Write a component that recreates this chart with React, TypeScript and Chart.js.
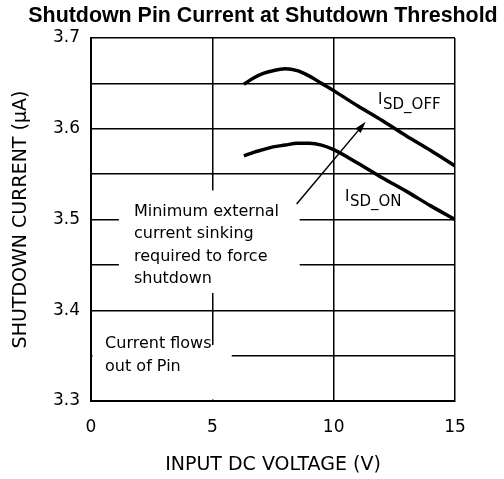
import React, { useEffect, useRef } from 'react';
import { Chart, registerables } from 'chart.js';

Chart.register(...registerables);

// ---- Text ----
const CHART_TITLE = 'Shutdown Pin Current at Shutdown Threshold';
const X_TITLE = 'INPUT DC VOLTAGE (V)';
const Y_TITLE = 'SHUTDOWN CURRENT (\u03BCA)';
const NOTE_SINK = ['Minimum external', 'current sinking', 'required to force', 'shutdown'];
const NOTE_OUT = ['Current flows', 'out of Pin'];
const LABEL_OFF = ['I', 'SD_OFF'];
const LABEL_ON = ['I', 'SD_ON'];

// ---- Axes ----
const X_MIN = 0;
const X_MAX = 15;
const X_STEP = 5;
const Y_MIN = 3.3;
const Y_MAX = 3.7;
const Y_GRID_STEP = 0.05;
const Y_TICK_LABELS = ['3.3', '3.4', '3.5', '3.6', '3.7'];

// ---- Series ----
const voltageOff = [6.3, 6.7, 7.1, 7.5, 8.0, 8.5, 9.0, 9.5, 10, 11, 12, 13, 14, 15];
const currentOff = [3.649, 3.656, 3.661, 3.664, 3.666, 3.664, 3.658, 3.65, 3.642, 3.625, 3.609, 3.592, 3.576, 3.559];
const voltageOn = [6.3, 6.7, 7.1, 7.5, 8.0, 8.5, 9.0, 9.5, 10, 11, 12, 13, 14, 15];
const currentOn = [3.57, 3.574, 3.577, 3.58, 3.582, 3.584, 3.584, 3.582, 3.577, 3.562, 3.546, 3.531, 3.515, 3.5];

// ---- Annotation placement (data units) ----
const MASKS = [
  { x0: 1.15, x1: 8.6, y0: 3.419, y1: 3.532 },
  { x0: 0, x1: 5.8, y0: 3.3, y1: 3.3617 },
];
const NOTE_SINK_POS = { x: 1.77, y: 3.5039 };
const NOTE_OUT_POS = { x: 0.58, y: 3.3581 };
const LABEL_OFF_POS = { x: 11.83, y: 3.6274 };
const LABEL_ON_POS = { x: 10.47, y: 3.5204 };
const ARROW = { x0: 8.475, y0: 3.517, x1: 11.32, y1: 3.6078 };

const toPoints = (xs: number[], ys: number[]) => xs.map((x, i) => ({ x, y: ys[i] }));

const annotationPlugin = {
  id: 'figureAnnotations',
  beforeDatasetsDraw(chart: any) {
    const { ctx, chartArea: a, scales } = chart;
    const xs = scales.x;
    const ys = scales.y;
    ctx.save();
    ctx.fillStyle = '#ffffff';
    for (const m of MASKS) {
      const l = Math.max(xs.getPixelForValue(m.x0), a.left + 1.5);
      const r = Math.min(xs.getPixelForValue(m.x1), a.right - 1.5);
      const t = Math.max(ys.getPixelForValue(m.y1), a.top + 1.5);
      const b = Math.min(ys.getPixelForValue(m.y0), a.bottom - 1.5);
      ctx.fillRect(l, t, r - l, b - t);
    }
    ctx.restore();
  },
  afterDatasetsDraw(chart: any) {
    const { ctx, scales } = chart;
    const xs = scales.x;
    const ys = scales.y;
    ctx.save();
    ctx.fillStyle = '#000';
    ctx.strokeStyle = '#000';
    ctx.textAlign = 'left';
    ctx.textBaseline = 'alphabetic';
    ctx.font = '16px "DejaVu Sans"';
    const lh = 22.5;
    let px = xs.getPixelForValue(NOTE_SINK_POS.x);
    let py = ys.getPixelForValue(NOTE_SINK_POS.y);
    NOTE_SINK.forEach((s, i) => ctx.fillText(s, px, py + i * lh));
    px = xs.getPixelForValue(NOTE_OUT_POS.x);
    py = ys.getPixelForValue(NOTE_OUT_POS.y);
    NOTE_OUT.forEach((s, i) => ctx.fillText(s, px, py + i * lh));

    // subscripted labels
    ctx.font = '15px "DejaVu Sans"';
    for (const [lab, pos] of [[LABEL_OFF, LABEL_OFF_POS], [LABEL_ON, LABEL_ON_POS]] as any) {
      const lx = xs.getPixelForValue(pos.x);
      const ly = ys.getPixelForValue(pos.y);
      ctx.fillText(lab[0], lx, ly);
      const w = ctx.measureText(lab[0]).width;
      ctx.fillText(lab[1], lx + w + 0.5, ly + 5.5);
    }

    // arrow
    const ax0 = xs.getPixelForValue(ARROW.x0);
    const ay0 = ys.getPixelForValue(ARROW.y0);
    const ax1 = xs.getPixelForValue(ARROW.x1);
    const ay1 = ys.getPixelForValue(ARROW.y1);
    const ang = Math.atan2(ay1 - ay0, ax1 - ax0);
    const hl = 12;
    const hw = 3.5;
    const bx = ax1 - hl * Math.cos(ang);
    const by = ay1 - hl * Math.sin(ang);
    ctx.lineWidth = 1.5;
    ctx.beginPath();
    ctx.moveTo(ax0, ay0);
    ctx.lineTo(bx, by);
    ctx.stroke();
    ctx.beginPath();
    ctx.moveTo(ax1, ay1);
    ctx.lineTo(bx - hw * Math.sin(ang), by + hw * Math.cos(ang));
    ctx.lineTo(bx + hw * Math.sin(ang), by - hw * Math.cos(ang));
    ctx.closePath();
    ctx.fill();
    ctx.restore();
  },
  afterDraw(chart: any) {
    const { ctx } = chart;
    ctx.save();
    ctx.fillStyle = '#000';
    ctx.font = 'bold 21.4px "Liberation Sans", Arial, sans-serif';
    ctx.textAlign = 'center';
    ctx.textBaseline = 'middle';
    ctx.fillText(CHART_TITLE, 263, 16);
    ctx.restore();
  },
};

export default function App() {
  const canvasRef = useRef<HTMLCanvasElement | null>(null);

  useEffect(() => {
    if (!canvasRef.current) return;
    const tickFont = { family: '"DejaVu Sans", sans-serif', size: 17 };
    const titleFont = { family: '"DejaVu Sans", sans-serif', size: 19 };
    const chart = new Chart(canvasRef.current, {
      type: 'line',
      data: {
        datasets: [
          {
            label: 'I_SD_OFF',
            data: toPoints(voltageOff, currentOff),
            borderColor: '#000',
            borderWidth: 3.5,
            pointRadius: 0,
            cubicInterpolationMode: 'monotone',
            fill: false,
          },
          {
            label: 'I_SD_ON',
            data: toPoints(voltageOn, currentOn),
            borderColor: '#000',
            borderWidth: 3.5,
            pointRadius: 0,
            cubicInterpolationMode: 'monotone',
            fill: false,
          },
        ],
      },
      options: {
        responsive: false,
        animation: false,
        devicePixelRatio: 1,
        layout: { padding: { top: 38, right: 49, left: 0, bottom: 0 } },
        plugins: { legend: { display: false }, tooltip: { enabled: false }, title: { display: false } },
        scales: {
          x: {
            type: 'linear',
            min: X_MIN,
            max: X_MAX,
            grid: { color: '#000', lineWidth: 1.5, drawTicks: false },
            border: { color: '#000', width: 2 },
            ticks: { stepSize: X_STEP, color: '#000', font: tickFont, padding: 16, maxRotation: 0 },
            title: { display: true, text: X_TITLE, color: '#000', font: titleFont, padding: { top: 0, bottom: 3 } },
            afterFit: (s: any) => { s.height = 78; },
          },
          y: {
            type: 'linear',
            min: Y_MIN,
            max: Y_MAX,
            grid: { color: '#000', lineWidth: 1.5, drawTicks: false },
            border: { color: '#000', width: 2 },
            ticks: {
              stepSize: Y_GRID_STEP,
              color: '#000',
              font: tickFont,
              padding: 11,
              callback: (v: any) => {
                const s = Number(v).toFixed(1);
                return Math.abs(Number(v) - Number(s)) < 1e-6 && Y_TICK_LABELS.includes(s) ? s : '';
              },
            },
            title: { display: true, text: Y_TITLE, color: '#000', font: titleFont, padding: { top: 10, bottom: 0 } },
            afterFit: (s: any) => { s.width = 91; },
          },
        },
      },
      plugins: [annotationPlugin],
    } as any);
    return () => chart.destroy();
  }, []);

  return (
    <div style={{ position: 'absolute', left: 0, top: 0, width: 504, height: 479, background: '#fff' }}>
      <canvas ref={canvasRef} width={504} height={479} style={{ width: 504, height: 479, display: 'block' }} />
    </div>
  );
}
